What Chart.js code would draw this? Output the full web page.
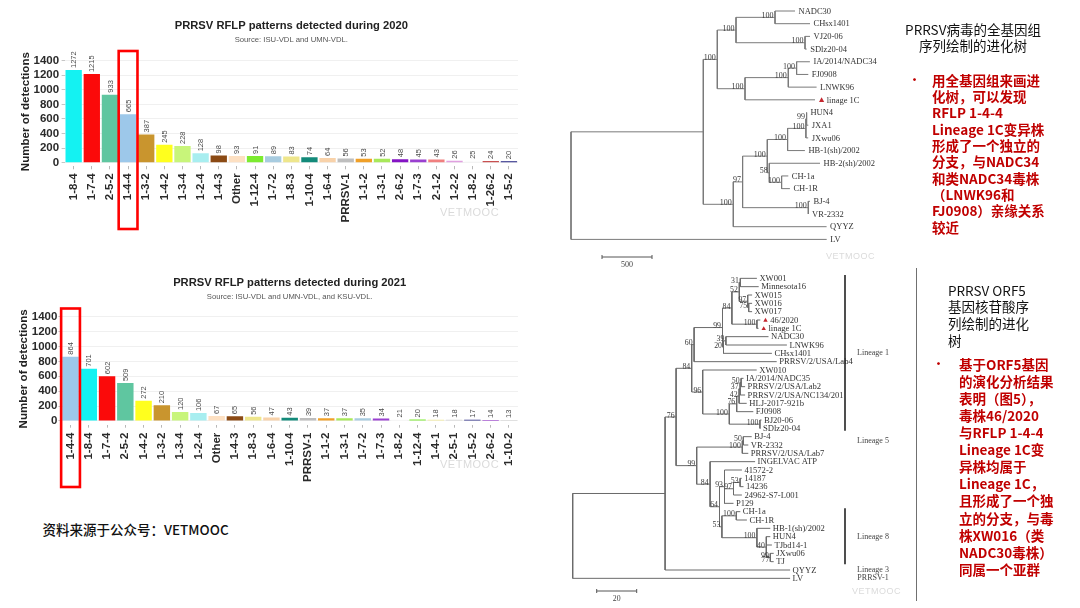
<!DOCTYPE html>
<html><head><meta charset="utf-8">
<script src="https://cdn.jsdelivr.net/npm/chart.js@4.4.1/dist/chart.umd.min.js"></script>
<style>
html,body{margin:0;padding:0;background:#fff;}
body{width:1080px;height:608px;position:relative;overflow:hidden;font-family:"Noto Sans CJK SC","Noto Sans",sans-serif;}
canvas{position:absolute;}
.blk{position:absolute;white-space:nowrap;font-size:13.5px;}
.red{color:#c00000;font-weight:700;}
.blk div{white-space:nowrap;}
.wm{position:absolute;font-family:"Liberation Sans",sans-serif;font-size:11px;color:rgba(150,150,150,0.35);letter-spacing:0.5px;}
</style></head><body>
<canvas id="c2020" width="540" height="252" style="left:0;top:0"></canvas>
<canvas id="c2021" width="540" height="255" style="left:0;top:255px"></canvas>
<canvas id="tree1" width="360" height="272" style="left:560px;top:0"></canvas>
<canvas id="tree2" width="355" height="343" style="left:560px;top:265px"></canvas>
<div style="position:absolute;left:915.5px;top:268px;width:1.3px;height:333px;background:#707070"></div>

<div class="blk" style="left:888px;top:20.5px;width:170px;text-align:center;line-height:16.4px;color:#111">
<div>PRRSV病毒的全基因组</div><div>序列绘制的进化树</div></div>
<div class="blk red" style="left:909px;top:71px;font-size:11px;line-height:17px">•</div>
<div class="blk red" style="left:932px;top:71.9px;line-height:16.3px">
<div>用全基因组来画进</div><div>化树，可以发现</div><div>RFLP 1-4-4</div><div>Lineage 1C变异株</div><div>形成了一个独立的</div><div>分支，与NADC34</div><div>和类NADC34毒株</div><div>（LNWK96和</div><div>FJ0908）亲缘关系</div><div>较近</div></div>

<div class="blk" style="left:948px;top:281.6px;line-height:16.7px;color:#111">
<div>PRRSV ORF5</div><div>基因核苷酸序</div><div>列绘制的进化</div><div>树</div></div>
<div class="blk red" style="left:933px;top:355px;font-size:11px;line-height:17px">•</div>
<div class="blk red" style="left:959px;top:355.8px;line-height:17.08px">
<div>基于ORF5基因</div><div>的演化分析结果</div><div>表明（图5），</div><div>毒株46/2020</div><div>与RFLP 1-4-4</div><div>Lineage 1C变</div><div>异株均属于</div><div>Lineage 1C，</div><div>且形成了一个独</div><div>立的分支，与毒</div><div>株XW016（类</div><div>NADC30毒株）</div><div>同属一个亚群</div></div>

<div class="blk" style="left:42.5px;top:520px;font-size:13.5px;line-height:18px;font-weight:500;color:#111">资料来源于公众号：VETMOOC</div>

<div class="wm" style="left:440px;top:206px">VETMOOC</div>
<div class="wm" style="left:440px;top:458px">VETMOOC</div>
<div class="wm" style="left:826px;top:251px;font-size:9px">VETMOOC</div>
<div class="wm" style="left:852px;top:586px;font-size:9px">VETMOOC</div>

<script>
// ---------------- DATA ----------------
const cats2020 = ['1-8-4','1-7-4','2-5-2','1-4-4','1-3-2','1-4-2','1-3-4','1-2-4','1-4-3','Other','1-12-4','1-7-2','1-8-3','1-10-4','1-6-4','PRRSV-1','1-1-2','1-3-1','2-6-2','1-7-3','2-1-2','1-2-2','1-8-2','1-26-2','1-5-2'];
const vals2020 = [1272,1215,933,665,387,245,228,128,98,93,91,89,83,74,64,56,53,52,48,45,43,26,25,24,20];
const cats2021 = ['1-4-4','1-8-4','1-7-4','2-5-2','1-4-2','1-3-2','1-3-4','1-2-4','Other','1-4-3','1-8-3','1-6-4','1-10-4','PRRSV-1','1-1-2','1-3-1','1-7-2','1-7-3','1-8-2','1-12-4','1-4-1','2-5-1','1-5-2','2-6-2','1-10-2'];
const vals2021 = [864,701,602,509,272,210,120,106,67,65,56,47,43,39,37,37,35,34,21,20,18,18,17,14,13];
const yTicks = [0,200,400,600,800,1000,1200,1400];
const highlightCat = '1-4-4';

// Whole-genome tree (branch lengths, bootstrap)
const tree1 = {c:[
  {l:1323, c:[
    {l:140, b:100, c:[
      {l:187, b:100, c:[
        {l:390, b:100, c:[{n:'NADC30', l:200}, {n:'CHsx1401', l:350}]},
        {l:690, b:100, c:[{n:'VJ20-06', l:50}, {n:'SDlz20-04', l:17}]}
      ]},
      {l:277, b:100, c:[
        {l:433, b:100, c:[
          {l:83, b:100, c:[{n:'IA/2014/NADC34', l:133}, {n:'FJ0908', l:117}]},
          {n:'LNWK96', l:283}
        ]},
        {n:'linage 1C', l:700}
      ]}
    ]},
    {l:300, b:100, c:[
      {l:93, b:97, c:[
        {l:247, b:100, c:[
          {l:203, b:100, c:[
            {l:183, b:100, c:[
              {l:7, b:99, c:[{n:'HUN4', l:3}, {n:'JXA1', l:17}]},
              {n:'JXwu06', l:23}
            ]},
            {n:'HB-1(sh)/2002', l:173}
          ]},
          {l:20, b:58, c:[
            {n:'HB-2(sh)/2002', l:507},
            {l:123, b:100, c:[{n:'CH-1a', l:67}, {n:'CH-1R', l:83}]}
          ]}
        ]},
        {l:657, b:100, c:[{n:'BJ-4', l:17}, {n:'VR-2332', l:3}]}
      ]},
      {n:'QYYZ', l:933}
    ]}
  ]},
  {n:'LV', l:2557}
]};

// ORF5 tree
const tree2 = {c:[
  {l:46.2, c:[
    {l:5.5, b:76, c:[
      {l:7.8, b:84, c:[
        {l:1.2, b:60, c:[
          {l:14.2, b:99, c:[
            {l:4.7, b:84, c:[
              {l:3.7, b:52, c:[
                {l:0.5, b:31, c:[{n:'XW001', l:8.3}, {n:'Minnesota16', l:9.2}]},
                {l:4.2, b:97, c:[{n:'XW015', l:2.2}, {l:0.5, b:75, c:[{n:'XW016', l:1.7}, {n:'XW017', l:1.7}]}]}
              ]},
              {l:12.5, b:100, c:[{n:'46/2020', l:1.7}, {n:'linage 1C', l:0.8}]}
            ]},
            {l:0.5, b:20, c:[
              {l:1.2, b:39, c:[{n:'NADC30', l:21.3}, {n:'LNWK96', l:30.5}]},
              {n:'CHsx1401', l:24.2}
            ]}
          ]},
          {n:'PRRSV/2/USA/Lab4', l:41.3}
        ]},
        {l:5.5, b:96, c:[
          {n:'XW010', l:27},
          {l:13.3, b:100, c:[
            {l:3.7, b:76, c:[
              {l:1.2, b:42, c:[
                {l:0.5, b:37, c:[
                  {l:0.5, b:50, c:[{n:'IA/2014/NADC35', l:1.2}, {n:'PRRSV/2/USA/Lab2', l:2}]},
                  {n:'PRRSV/2/USA/NC134/201', l:2.5}
                ]},
                {n:'HLJ-2017-921b', l:3.8}
              ]},
              {n:'FJ0908', l:8.3}
            ]},
            {l:15.3, b:100, c:[{n:'BJ20-06', l:0.8}, {n:'SDlz20-04', l:0.3}]}
          ]}
        ]}
      ]},
      {l:10.3, b:99, c:[
        {l:22.8, b:100, c:[
          {l:0.5, b:50, c:[{n:'BJ-4', l:4.2}, {n:'VR-2332', l:2.5}]},
          {n:'PRRSV/2/USA/Lab7', l:3}
        ]},
        {l:6.7, b:84, c:[
          {n:'INGELVAC ATP', l:22.5},
          {l:4.7, b:64, c:[
            {l:2.5, b:93, c:[
              {n:'41572-2', l:8.7},
              {l:4.5, b:97, c:[
                {l:3.3, b:53, c:[{n:'14187', l:0.8}, {n:'14236', l:1.7}]},
                {n:'24962-S7-L001', l:4.2}
              ]},
              {n:'P129', l:4.5}
            ]},
            {l:1.2, b:53, c:[
              {l:7.2, b:100, c:[{n:'CH-1a', l:2}, {n:'CH-1R', l:5.3}]},
              {l:17.5, b:100, c:[
                {n:'HB-1(sh)/2002', l:6.7},
                {l:4.7, b:40, c:[
                  {n:'HUN4', l:2}, {n:'TJbd14-1', l:2.8},
                  {l:2, b:99, c:[{n:'JXwu06', l:1.7}, {l:0.3, b:77, c:[{n:'TJ', l:1.4}]}]}
                ]}
              ]}
            ]}
          ]}
        ]}
      ]}
    ]},
    {n:'QYYZ', l:62.5}
  ]},
  {n:'LV', l:108.7}
]};
const markedLeaves = ['linage 1C', '46/2020'];
const lineages2 = [
  {name:'Lineage 1', from:'XW001', to:'SDlz20-04', bar:true},
  {name:'Lineage 5', from:'BJ-4', to:'VR-2332', bar:false},
  {name:'Lineage 8', from:'CH-1a', to:'TJ', bar:true},
  {name:'Lineage 3', from:'QYYZ', to:'QYYZ', bar:false},
  {name:'PRRSV-1', from:'LV', to:'LV', bar:false}
];

// ---------------- STYLES ----------------
const colorMap = {
  '1-8-4':'#14f2f2','1-7-4':'#fb0a0a','2-5-2':'#5fc6a0','1-4-4':'#9dc8ea','1-3-2':'#c9952e',
  '1-4-2':'#ffff1e','1-3-4':'#c8f57a','1-2-4':'#a8eef0','1-4-3':'#8b4a14','Other':'#fde0c2',
  '1-12-4':'#7ceb30','1-7-2':'#a8cce0','1-8-3':'#eee68c','1-10-4':'#138a7a','1-6-4':'#f8d2aa',
  'PRRSV-1':'#bebebe','1-1-2':'#f0a028','1-3-1':'#a8e85a','2-6-2':'#8414c4','1-7-3':'#9a40d0',
  '2-1-2':'#f08080','1-2-2':'#e0a0e0','1-8-2':'#fbfbfb','1-26-2':'#c85050','1-5-2':'#202080',
  '1-4-1':'#f4ec96','2-5-1':'#d4d4d4','1-10-2':'#d0d0d0'
};
const SANS = '"Liberation Sans", Arial, sans-serif';
const SERIF = '"Liberation Serif", "Times New Roman", serif';

const barDeco = {
  id:'barDeco',
  afterDraw(chart, args, o) {
    const {ctx, chartArea} = chart;
    const meta = chart.getDatasetMeta(0);
    const vals = chart.data.datasets[0].data;
    ctx.save();
    ctx.font = '7.5px ' + SANS; ctx.fillStyle = '#4a4a4a';
    ctx.textBaseline = 'middle'; ctx.textAlign = 'left';
    meta.data.forEach((bar, i) => {
      ctx.save(); ctx.translate(bar.x + 0.5, bar.y - 2); ctx.rotate(-Math.PI/2);
      ctx.fillText(String(vals[i]), 0, 0); ctx.restore();
    });
    const cx = (chartArea.left + chartArea.right) / 2;
    ctx.textAlign = 'center';
    ctx.fillStyle = '#222'; ctx.font = 'bold 11.2px ' + SANS; ctx.fillText(o.title, cx, o.titleY);
    ctx.fillStyle = '#555'; ctx.font = '7.7px ' + SANS; ctx.fillText(o.subtitle, cx, o.subY);
    const idx = chart.data.labels.indexOf(o.boxCat);
    const x = chart.scales.x.getPixelForValue(idx);
    ctx.strokeStyle = '#ff0000'; ctx.lineWidth = 2.6;
    ctx.strokeRect(x - 9.4, o.boxTop, 18.8, o.boxBottom - o.boxTop);
    ctx.restore();
  }
};

function barChart(id, cats, vals, cfg) {
  return new Chart(document.getElementById(id), {
    type:'bar',
    data:{labels:cats, datasets:[{data:vals, backgroundColor:cats.map(c => colorMap[c]), borderWidth:0, barPercentage:0.9, categoryPercentage:1}]},
    options:{
      responsive:false, animation:false,
      layout:{padding:{top:cfg.top, right:22, bottom:0, left:0}},
      plugins:{legend:{display:false}, tooltip:{enabled:false}, barDeco:cfg},
      scales:{
        x:{
          grid:{drawOnChartArea:false, offset:false, tickLength:3, color:'#b8b8b8', tickColor:'#b8b8b8'},
          border:{display:false},
          ticks:{autoSkip:false, minRotation:90, maxRotation:90, padding:cfg.xPad, color:'#2a2a2a', font:{family:SANS, weight:'bold', size:11.5}},
          afterFit:s => { s.height = cfg.xHeight; }
        },
        y:{
          min:-50, max:1450,
          afterBuildTicks:s => { s.ticks = yTicks.map(v => ({value:v})); },
          grid:{color:'#ececec', tickColor:'#b8b8b8', tickLength:3, lineWidth:0.8},
          border:{display:false},
          ticks:{autoSkip:false, padding:cfg.yPad, color:'#2a2a2a', font:{family:SANS, weight:'bold', size:11.5}, callback:v => String(v)},
          title:{display:true, text:'Number of detections', color:'#222', font:{family:SANS, weight:'bold', size:11.6}, padding:{top:cfg.yTitlePad, bottom:0}},
          afterFit:s => { s.width = cfg.left; }
        }
      }
    },
    plugins:[barDeco]
  });
}

barChart('c2020', cats2020, vals2020, {
  title:'PRRSV RFLP patterns detected during 2020', subtitle:'Source: ISU-VDL and UMN-VDL.',
  titleY:26, subY:39.5, top:57, xHeight:85.7, left:64.6, xPad:4, yPad:2.5, yTitlePad:19,
  boxCat:highlightCat, boxTop:51, boxBottom:229
});
barChart('c2021', cats2021, vals2021, {
  title:'PRRSV RFLP patterns detected during 2021', subtitle:'Source: ISU-VDL and UMN-VDL, and KSU-VDL.',
  titleY:28, subY:42.2, top:58, xHeight:85.3, left:61.4, xPad:5, yPad:1, yTitlePad:17,
  boxCat:highlightCat, boxTop:53.5, boxBottom:232
});

// ---------------- TREES ----------------
function layoutTree(root) {
  const leaves = [], internals = [], segs = [];
  (function walk(n, base) {
    n.x = base + (n.l || 0);
    if (!n.c) { n.y = leaves.length; leaves.push(n); return; }
    n.c.forEach(ch => walk(ch, n.x));
    n.y = (n.c[0].y + n.c[n.c.length - 1].y) / 2;
    internals.push(n);
  })(root, 0);
  internals.forEach(n => {
    segs.push({x:n.x, y:n.c[0].y}, {x:n.x, y:n.c[n.c.length - 1].y}, {x:null, y:null});
    n.c.forEach(ch => segs.push({x:n.x, y:ch.y}, {x:ch.x, y:ch.y}, {x:null, y:null}));
  });
  return {leaves, internals, segs};
}

const treeDeco = {
  id:'treeDeco',
  afterDatasetsDraw(chart, args, o) {
    const t = o.tree, xs = chart.scales.x, ys = chart.scales.y, ctx = chart.ctx;
    ctx.save();
    ctx.textBaseline = 'middle'; ctx.textAlign = 'left';
    ctx.font = o.leafFont; ctx.fillStyle = '#333';
    t.leaves.forEach(l => {
      let px = xs.getPixelForValue(l.x) + o.gap;
      const py = ys.getPixelForValue(l.y);
      if (markedLeaves.includes(l.n)) {
        const cx = px + o.triR + 0.5, s = o.triR;
        ctx.save(); ctx.fillStyle = '#c4262e';
        ctx.beginPath(); ctx.moveTo(cx, py - s); ctx.lineTo(cx + s, py + s*0.8); ctx.lineTo(cx - s, py + s*0.8); ctx.closePath(); ctx.fill();
        ctx.restore();
        px += o.triR * 2 + 3;
      }
      ctx.fillText(l.n, px, py + 0.5);
    });
    ctx.font = o.bootFont; ctx.textAlign = 'right'; ctx.fillStyle = '#3a3a3a';
    t.internals.forEach(n => {
      if (n.b != null) ctx.fillText(String(n.b), xs.getPixelForValue(n.x) - 1.5, ys.getPixelForValue(n.y) - 1.5);
    });
    // scale bar
    const sb = o.scaleBar;
    const len = xs.getPixelForValue(sb.value) - xs.getPixelForValue(0);
    ctx.strokeStyle = '#555'; ctx.lineWidth = 1;
    ctx.beginPath();
    ctx.moveTo(sb.x, sb.y); ctx.lineTo(sb.x + len, sb.y);
    ctx.moveTo(sb.x, sb.y - 2); ctx.lineTo(sb.x, sb.y + 2);
    ctx.moveTo(sb.x + len, sb.y - 2); ctx.lineTo(sb.x + len, sb.y + 2);
    ctx.stroke();
    ctx.textAlign = 'center'; ctx.fillStyle = '#444'; ctx.font = o.bootFont;
    ctx.fillText(String(sb.value), sb.x + len / 2, sb.y + 8);
    // lineage annotations
    if (o.lineages) {
      const idx = name => t.leaves.findIndex(l => l.n === name);
      o.lineages.forEach(g => {
        const a = idx(g.from), b = idx(g.to);
        if (g.bar) {
          ctx.strokeStyle = '#222'; ctx.lineWidth = 1.6;
          ctx.beginPath();
          ctx.moveTo(o.barX, ys.getPixelForValue(a - 0.4));
          ctx.lineTo(o.barX, ys.getPixelForValue(b + 0.3));
          ctx.stroke();
        }
        ctx.fillStyle = '#444'; ctx.font = o.linFont; ctx.textAlign = 'center';
        ctx.fillText(g.name, o.linX, ys.getPixelForValue((a + b) / 2));
      });
    }
    ctx.restore();
  }
};

function treeChart(id, tree, cfg) {
  const t = layoutTree(tree);
  return new Chart(document.getElementById(id), {
    type:'scatter',
    data:{datasets:[{data:t.segs, showLine:true, spanGaps:false, borderColor:cfg.lineColor, borderWidth:1, pointRadius:0, tension:0}]},
    options:{
      responsive:false, animation:false,
      layout:{padding:0},
      plugins:{legend:{display:false}, tooltip:{enabled:false}, treeDeco:Object.assign({tree:t}, cfg)},
      scales:{
        x:{type:'linear', display:false, min:cfg.xmin, max:cfg.xmax},
        y:{type:'linear', display:false, reverse:true, min:cfg.ymin, max:cfg.ymax}
      }
    },
    plugins:[treeDeco]
  });
}

treeChart('tree1', tree1, {
  xmin:-110, xmax:3490, ymin:-0.867, ymax:20.57, lineColor:'#7a7a7a',
  leafFont:'8.5px ' + SERIF, bootFont:'8px ' + SERIF, gap:3.5, triR:2.6,
  scaleBar:{value:500, x:42, y:257}
});
treeChart('tree2', tree2, {
  xmin:-6.35, xmax:171.15, ymin:-1.6, ymax:39.56, lineColor:'#6a6a6a',
  leafFont:'8.6px ' + SERIF, bootFont:'7.8px ' + SERIF, gap:2.5, triR:2.2,
  scaleBar:{value:20, x:36.7, y:326},
  lineages:lineages2, barX:285, linX:313, linFont:'8px ' + SERIF
});
</script>
</body></html>
